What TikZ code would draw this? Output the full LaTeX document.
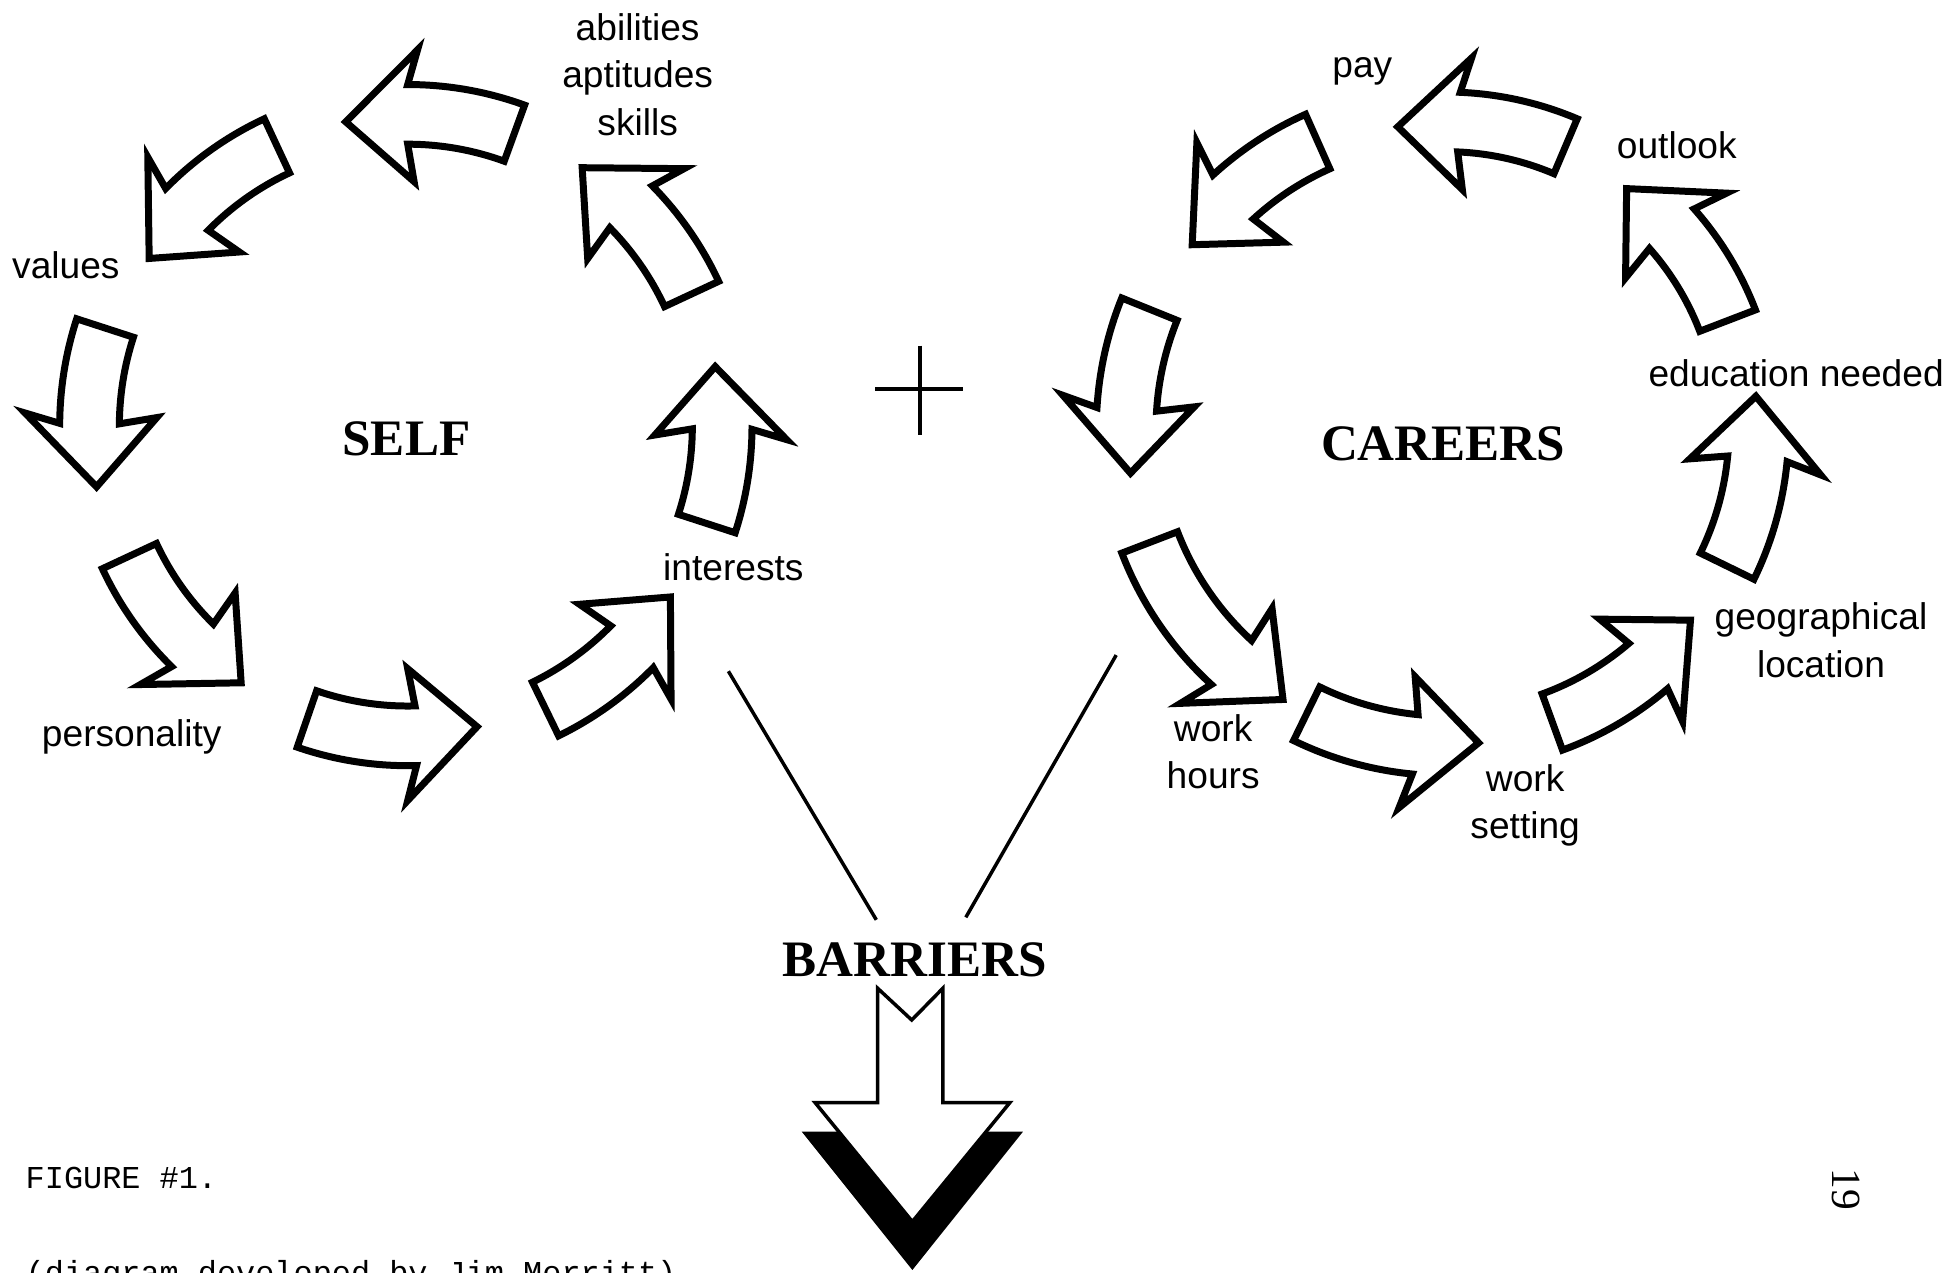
\documentclass[tikz,border=0pt]{standalone}
\usepackage{fontspec}
\usetikzlibrary{positioning}

\newfontfamily\labelfont{Liberation Sans}
\newfontfamily\titlefont{Liberation Serif}
\newfontfamily\typefont{Liberation Mono}

% curved block arrow on a circle: centre, radius, tail angle, tip angle
\newcommand{\cyclearrow}[4]{%
  \pgfmathsetmacro{\headang}{#4-11.5}%
  \pgfmathsetmacro{\barbang}{#4-13}%
  \draw[blockarrow, shift={(#1)}]
    ({#3}:{#2+0.25}) arc[start angle=#3, end angle=\headang, radius=#2+0.25]
    -- ({\barbang}:{#2+0.53}) -- ({#4}:{#2}) -- ({\barbang}:{#2-0.53})
    -- ({\headang}:{#2-0.23}) arc[start angle=\headang, end angle=#3, radius=#2-0.23]
    -- cycle;
}

\tikzset{
  blockarrow/.style={line width=1.6pt, line join=miter, fill=white},
  lbl/.style={font=\labelfont\fontsize{8.5}{10.8}\selectfont, align=center, inner sep=0pt},
  ttl/.style={font=\titlefont\bfseries\fontsize{11.7}{14}\selectfont, inner sep=0pt},
  typ/.style={font=\typefont\fontsize{7.3}{9}\selectfont, inner sep=0pt, anchor=west},
}

\begin{document}
\begin{tikzpicture}

    \useasboundingbox (0,0) rectangle (15.68,-10.24);
    \clip (0,0) rectangle (15.68,-10.24);

    \coordinate (self) at (3.28,-3.43);
    \coordinate (careers) at (11.63,-3.45);

    % Self cycle
    \cyclearrow{self}{2.51}{25}{56}
    \cyclearrow{self}{2.50}{70}{101.5}
    \cyclearrow{self}{2.48}{115}{147}
    \cyclearrow{self}{2.55}{162}{191}
    \cyclearrow{self}{2.46}{205}{237}
    \cyclearrow{self}{2.48}{251}{283}
    \cyclearrow{self}{2.52}{296}{327}
    \cyclearrow{self}{2.52}{342}{371}

    % Careers cycle
    \cyclearrow{careers}{2.52}{114}{144}
    \cyclearrow{careers}{2.56}{158}{188}
    \cyclearrow{careers}{2.54}{201}{239}
    \cyclearrow{careers}{2.54}{244}{276}
    \cyclearrow{careers}{2.50}{290}{322}
    \cyclearrow{careers}{2.51}{334}{366}
    \cyclearrow{careers}{2.42}{21}{53}
    \cyclearrow{careers}{2.46}{67}{99}

    % Labels
    \node[lbl] (abil) at (5.13,-0.60) {abilities\\aptitudes\\skills};
    \node[lbl] (values) at (0.53,-2.13) {values};
    \node[lbl] (pers) at (1.06,-5.93) {personality};
    \node[lbl] (inter) at (5.90,-4.56) {interests};
    \node[ttl] (selft) at (3.27,-3.53) {SELF};

    \node[lbl] (pay) at (10.96,-0.57) {pay};
    \node[lbl] (outl) at (13.49,-1.17) {outlook};
    \node[lbl] (edu) at (14.45,-3.00) {education needed};
    \node[lbl] (geo) at (14.65,-5.15) {geographical\\location};
    \node[lbl] (setting) at (12.27,-6.48) {work\\setting};
    \node[lbl] (hours) at (9.76,-6.05) {work\\hours};
    \node[ttl] (cart) at (11.61,-3.57) {CAREERS};

    % Plus
    \draw[line width=0.9pt] (7.04,-3.13) -- (7.75,-3.13) (7.40,-2.78) -- (7.40,-3.50);

    % Barriers
    \node[ttl] (barr) at (7.36,-7.72) {BARRIERS};
    \coordinate (lfoot) at (5.86,-5.40);
    \coordinate (rfoot) at (8.98,-5.27);
    \coordinate (barl) at (7.05,-7.40);
    \coordinate (barr2) at (7.77,-7.38);
    \draw[line width=0.8pt] (lfoot) -- (barl);
    \draw[line width=0.8pt] (rfoot) -- (barr2);

    \fill (6.45,-9.104) -- (7.34,-10.217) -- (8.23,-9.104) -- cycle;
    \draw[line width=0.8pt, fill=white, line join=miter]
        (7.06,-7.95) -- (7.335,-8.206) -- (7.586,-7.95) -- (7.586,-8.87) -- (8.125,-8.87)
        -- (7.34,-9.828) -- (6.557,-8.87) -- (7.06,-8.87) -- cycle;

    % Caption
    \node[typ] (fig) at (0.20,-9.48) {FIGURE \#1.};
    \node[typ] (credit) at (0.20,-10.26) {(diagram developed by Jim Merritt)};
    \node[font=\titlefont\fontsize{9.5}{10}\selectfont, rotate=-90, inner sep=0pt] (page) at (14.85,-9.57) {19};

\end{tikzpicture}
\end{document}
